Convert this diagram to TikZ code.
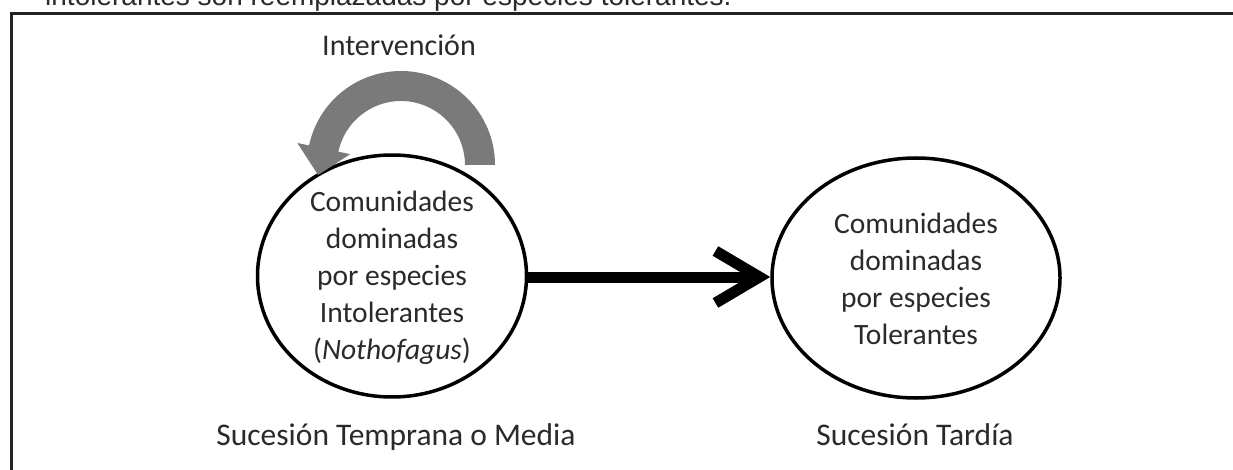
\documentclass[tikz,border=0pt]{standalone}
\usepackage{fontspec}
\setmainfont{Carlito}
\newfontfamily\topfont{Liberation Sans}
\usetikzlibrary{shapes.geometric,arrows.meta,calc}
\definecolor{txt}{HTML}{2A2A2A}
\definecolor{arcgray}{HTML}{7A7A7A}
\definecolor{frame}{HTML}{222222}
\tikzset{
  comm/.style={draw=black, line width=3.5pt, ellipse, inner sep=0pt},
  body/.style={text=txt, align=center, font=\fontsize{29.5}{37}\selectfont, inner sep=0pt},
  lbl/.style={text=txt, font=\fontsize{30}{36}\selectfont, inner sep=0pt, anchor=base},
  stage/.style={text=txt, font=\fontsize{31.5}{38}\selectfont, inner sep=0pt, anchor=base},
  succ/.style={line width=11pt, draw=black, -{Straight Barb[length=44pt, width=52pt]}},
}
\begin{document}
\begin{tikzpicture}[x=1pt,y=1pt]
\clip (0,0) rectangle (1233,469);
\fill[white] (0,0) rectangle (1233,469);
% cut-off caption line above the frame
\node[anchor=base west, inner sep=0pt, text=txt, font=\topfont\fontsize{28}{34}\selectfont] (cap) at (45,463) {intolerantes son reemplazadas por especies tolerantes.};
% frame
\draw[frame, line width=3pt] (11,-5) -- (11,455) -- (1240,455);
% communities
\node[comm, minimum width=269pt, minimum height=242pt] (L) at (392,193) {};
\node[body] (Lt) at (392,191) {Comunidades\\dominadas\\por especies\\Intolerantes\\(\textit{Nothofagus})};
\node[comm, minimum width=288pt, minimum height=240pt] (R) at (916,191) {};
\node[body] (Rt) at (916,190) {Comunidades\\dominadas\\por especies\\Tolerantes};
% succession arrow
\draw[succ] (L.east |- 0,192) -- (R.west |- 0,192);
% intervention arrow
\coordinate (C) at ($(L.center)+(9,111)$);
\fill[arcgray] ($(C)+(0:64)$) -- ($(C)+(0:94)$) arc[start angle=0, end angle=168, radius=94]
  -- ($(C)+(168:106)$) -- ($(C)+(168:79)+(258:27)$) -- ($(C)+(168:52)$) -- ($(C)+(168:64)$)
  arc[start angle=168, end angle=0, radius=64] -- cycle;
\node[lbl] (int) at (399,413) {Intervención};
% stage labels
\node[stage] (early) at (396,24) {Sucesión Temprana o Media};
\node[stage] (late) at (915,24) {Sucesión Tardía};
\end{tikzpicture}
\end{document}
